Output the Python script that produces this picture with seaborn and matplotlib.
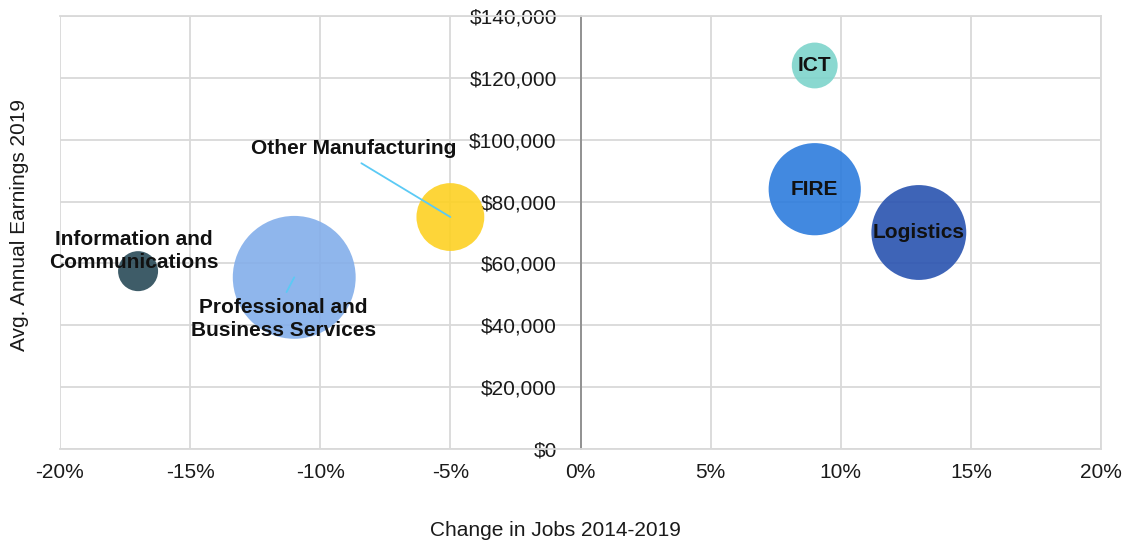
import numpy as np
import pandas as pd
import seaborn as sns
import matplotlib
matplotlib.use("Agg")
import matplotlib.pyplot as plt
from matplotlib.ticker import FuncFormatter

# ---- data ----
sectors = ["ICT", "FIRE", "Logistics", "Other Manufacturing",
           "Professional and\nBusiness Services", "Information and\nCommunications"]
job_change = [9, 9, 13, -5, -11, -17]                       # % change in jobs 2014-2019
earnings = [124000, 84000, 70000, 75000, 55500, 57500]       # avg annual earnings 2019
bubble_size = [21, 85, 90, 46, 151, 16]                      # relative bubble size
colors = ["#7dd4cb", "#2d7cdd", "#2953b0", "#fdd123", "#83aeea", "#294a57"]
x_ticks = [-20, -15, -10, -5, 0, 5, 10, 15, 20]
y_ticks = [0, 20000, 40000, 60000, 80000, 100000, 120000, 140000]

# label anchors for labels placed off the bubble (data coords)
label_offsets = {
    "Other Manufacturing": (-8.72, 97000, (0.5, 0.0), True),
    "Professional and\nBusiness Services": (-11.41, 42000, (0.5, 1.0), True),
    "Information and\nCommunications": (-17.18, 64000, (0.5, 0.0), False),
}

df = pd.DataFrame({"sector": sectors, "x": job_change, "y": earnings, "size": bubble_size})

sns.set_theme(style="white")
plt.rcParams["font.family"] = ["Liberation Sans", "DejaVu Sans"]

W, H = 1126, 544
fig = plt.figure(figsize=(W / 100, H / 100), dpi=100)
L, R, T, B = 60, 1101, 16, 449
ax = fig.add_axes([L / W, 1 - B / H, (R - L) / W, (B - T) / H])

k = (0.72 * 10) ** 2
sns.scatterplot(data=df, x="x", y="y", hue="sector",
                palette=dict(zip(sectors, colors)),
                size="size", sizes=(min(bubble_size) * k, max(bubble_size) * k),
                size_norm=(min(bubble_size), max(bubble_size)),
                legend=False, alpha=0.9, linewidth=0, ax=ax, zorder=3)

ax.set_xlim(x_ticks[0], x_ticks[-1])
ax.set_ylim(y_ticks[0], y_ticks[-1])
ax.set_xticks(x_ticks)
ax.set_yticks(y_ticks)
ax.xaxis.set_major_formatter(FuncFormatter(lambda v, p: f"{v:.0f}%"))
ax.yaxis.set_major_formatter(FuncFormatter(lambda v, p: f"${v:,.0f}"))
ax.tick_params(axis="both", length=0, labelsize=15, colors="#1a1a1a")
ax.tick_params(axis="y", pad=17)
ax.tick_params(axis="x", pad=10)
ax.grid(True, color="#d9d9d9", linewidth=1.3)
ax.set_axisbelow(True)
ax.set_xlabel("")
ax.set_ylabel("")

for s in ["top", "right", "bottom"]:
    ax.spines[s].set_color("#d9d9d9")
    ax.spines[s].set_linewidth(1.3)
ax.spines["left"].set_position(("data", 0))
ax.spines["left"].set_color("#8c8c8c")
ax.spines["left"].set_linewidth(1.3)
ax.spines["left"].set_zorder(2.5)

# labels
for name, xv, yv in zip(sectors, job_change, earnings):
    if name in label_offsets:
        tx, ty, rel, leader = label_offsets[name]
        if leader:
            ax.annotate(name, xy=(xv, yv), xytext=(tx, ty), ha="center", va="center",
                        fontsize=15, fontweight="bold", color="#111111", zorder=5,
                        linespacing=1.3,
                        arrowprops=dict(arrowstyle="-", color="#5bcaf5", lw=1.3,
                                        relpos=rel, shrinkA=2, shrinkB=0))
        else:
            ax.text(tx, ty, name, ha="center", va="center", fontsize=15,
                    fontweight="bold", color="#111111", zorder=5, linespacing=1.3)
    else:
        ax.text(xv, yv, name, ha="center", va="center", fontsize=15,
                fontweight="bold", color="#111111", zorder=5)

fig.text(555 / W, 1 - 530 / H, "Change in Jobs 2014-2019", ha="center", va="center",
         fontsize=15, color="#1a1a1a")
fig.text(20 / W, 1 - 225 / H, "Avg. Annual Earnings 2019", ha="center", va="center",
         rotation=90, fontsize=15, color="#1a1a1a")

fig.savefig("out.png", dpi=100)
